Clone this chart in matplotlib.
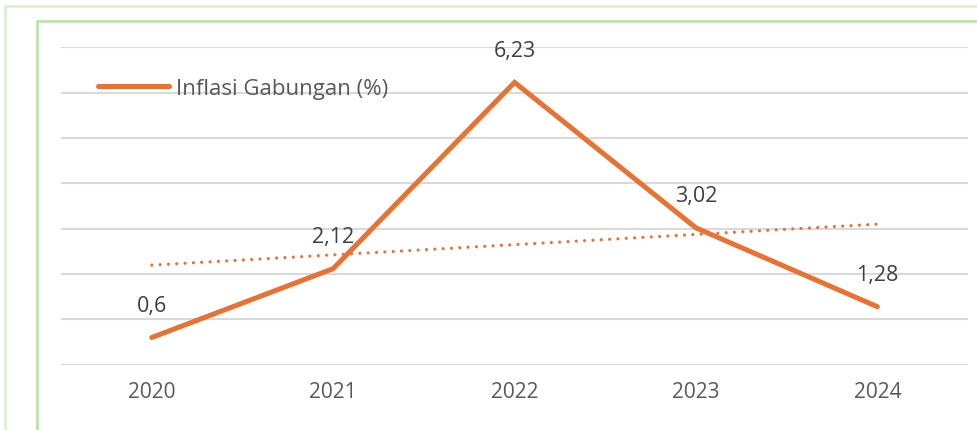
import numpy as np
import matplotlib
matplotlib.use("Agg")
import matplotlib.pyplot as plt
from matplotlib.patches import Rectangle

years = ["2020", "2021", "2022", "2023", "2024"]
inflasi = [0.6, 2.12, 6.23, 3.02, 1.28]
labels = ["0,6", "2,12", "6,23", "3,02", "1,28"]

ORANGE = "#E97132"
GRID = "#d9d9d9"
TEXT = "#595959"

plt.rcParams["font.family"] = ["Open Sans", "DejaVu Sans"]

fig = plt.figure(figsize=(9.78, 4.31), dpi=100)
ax = fig.add_axes([0.0624, 0.1515, 0.9274, 0.736])

x = np.arange(len(years))
ax.plot(x, inflasi, color=ORANGE, linewidth=3.6, solid_capstyle="round",
        solid_joinstyle="miter", label="Inflasi Gabungan (%)", zorder=3)

# linear trend line over the series
slope, intercept = np.polyfit(x, inflasi, 1)
ax.plot(x[[0, -1]], slope * x[[0, -1]] + intercept, color=ORANGE, linewidth=2.3,
        linestyle=(0, (0.01, 2.6)), dash_capstyle="round", zorder=2)

for xi, yi, lab in zip(x, inflasi, labels):
    ax.annotate(lab, (xi, yi), xytext=(0, 23), textcoords="offset points",
                ha="center", va="center", fontsize=15.5, color="#404040")

ax.set_xlim(-0.5, 4.5)
ax.set_ylim(0, 7)
ax.set_yticks(np.arange(0, 8, 1))
ax.yaxis.grid(True, color=GRID, linewidth=1.5)
ax.set_axisbelow(True)
ax.tick_params(axis="y", left=False, labelleft=False)
ax.tick_params(axis="x", length=0, pad=12, labelsize=15, labelcolor=TEXT)
ax.set_xticks(x)
ax.set_xticklabels(years)
for s in ax.spines.values():
    s.set_visible(False)

ax.legend(loc="upper left", bbox_to_anchor=(0.019, 0.966), frameon=False,
          fontsize=16, labelcolor=TEXT, handlelength=3.2, handletextpad=0.3)

# chart area frames
W, H = 978, 431
fig.patches.append(Rectangle((5 / W, -0.1), 1.2, 1 - 7 / H + 0.1, transform=fig.transFigure,
                             fill=False, edgecolor="#d6f0cc", linewidth=1.8))
fig.patches.append(Rectangle((37 / W, -0.1), 1.2, 1 - 22 / H + 0.1, transform=fig.transFigure,
                             fill=False, edgecolor="#b5e4a3", linewidth=1.8))

fig.savefig("out.png", dpi=100)
